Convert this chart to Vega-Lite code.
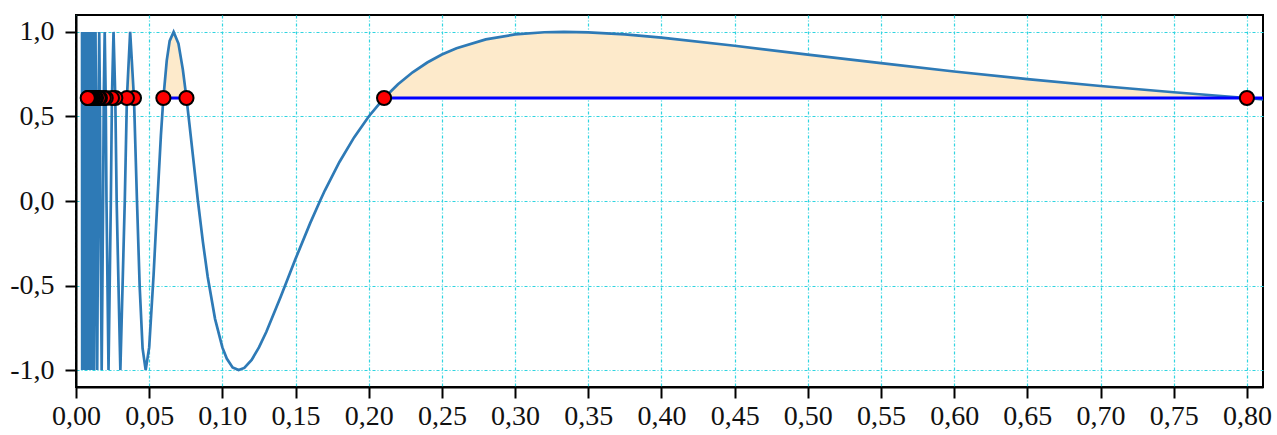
{
  "$schema": "https://vega.github.io/schema/vega-lite/v6.json",
  "width": 1187,
  "height": 372,
  "autosize": "none",
  "padding": {"left": 76, "top": 15, "right": 14, "bottom": 48},
  "background": "white",
  "config": {
    "font": "Liberation Serif",
    "view": {"stroke": "black", "strokeWidth": 2},
    "axis": {
      "labelFont": "Liberation Serif",
      "labelFontSize": 28,
      "labelColor": "#111111",
      "domainColor": "black",
      "domainWidth": 2,
      "tickColor": "black",
      "tickWidth": 2,
      "tickSize": 11,
      "gridColor": "#2fd4e0",
      "gridWidth": 1.2,
      "gridDash": [3, 2, 1, 2],
      "gridOpacity": 1
    }
  },
  "datasets": {
    "curve": [
      {"x": 0.00412, "y": 1}, {"x": 0.00422, "y": -1}, {"x": 0.00433, "y": 1}, {"x": 0.00444, "y": -1},
      {"x": 0.00457, "y": 1}, {"x": 0.00469, "y": -1}, {"x": 0.00483, "y": 1}, {"x": 0.00498, "y": -1},
      {"x": 0.00513, "y": 1}, {"x": 0.00529, "y": -1}, {"x": 0.00546, "y": 1}, {"x": 0.00565, "y": -1},
      {"x": 0.00585, "y": 1}, {"x": 0.00606, "y": -1}, {"x": 0.00629, "y": 1}, {"x": 0.00654, "y": -1},
      {"x": 0.0068, "y": 1}, {"x": 0.00709, "y": -1}, {"x": 0.00741, "y": 1}, {"x": 0.00775, "y": -1},
      {"x": 0.00813, "y": 1}, {"x": 0.00855, "y": -1}, {"x": 0.00901, "y": 1}, {"x": 0.00952, "y": -1},
      {"x": 0.0101, "y": 1}, {"x": 0.01075, "y": -1}, {"x": 0.01149, "y": 1}, {"x": 0.01235, "y": -1},
      {"x": 0.01333, "y": 1}, {"x": 0.01449, "y": -1}, {"x": 0.01515, "y": 0}, {"x": 0.01544, "y": 0.609},
      {"x": 0.01587, "y": 1}, {"x": 0.01633, "y": 0.609}, {"x": 0.01667, "y": 0}, {"x": 0.01754, "y": -1},
      {"x": 0.01852, "y": 0}, {"x": 0.01896, "y": 0.609}, {"x": 0.01961, "y": 1}, {"x": 0.0203, "y": 0.609},
      {"x": 0.02083, "y": 0}, {"x": 0.02222, "y": -1}, {"x": 0.02381, "y": 0}, {"x": 0.02454, "y": 0.609},
      {"x": 0.02564, "y": 1}, {"x": 0.02685, "y": 0.609}, {"x": 0.02778, "y": 0}, {"x": 0.0303, "y": -1},
      {"x": 0.03333, "y": 0}, {"x": 0.03478, "y": 0.609}, {"x": 0.037, "y": 1}, {"x": 0.0396, "y": 0.609},
      {"x": 0.04167, "y": 0}, {"x": 0.0435, "y": -0.505}, {"x": 0.0455, "y": -0.872}, {"x": 0.0476, "y": -1},
      {"x": 0.05, "y": -0.866}, {"x": 0.053, "y": -0.439}, {"x": 0.0556, "y": 0}, {"x": 0.058, "y": 0.387},
      {"x": 0.0597, "y": 0.609}, {"x": 0.062, "y": 0.83}, {"x": 0.064, "y": 0.947}, {"x": 0.0667, "y": 1},
      {"x": 0.07, "y": 0.931}, {"x": 0.073, "y": 0.777}, {"x": 0.0755, "y": 0.607}, {"x": 0.0775, "y": 0.455},
      {"x": 0.08, "y": 0.259}, {"x": 0.0833, "y": 0}, {"x": 0.0867, "y": -0.242}, {"x": 0.09, "y": -0.449},
      {"x": 0.095, "y": -0.697}, {"x": 0.1, "y": -0.866}, {"x": 0.103, "y": -0.932}, {"x": 0.107, "y": -0.984},
      {"x": 0.1111, "y": -1}, {"x": 0.115, "y": -0.987}, {"x": 0.12, "y": -0.94}, {"x": 0.125, "y": -0.866},
      {"x": 0.13, "y": -0.775}, {"x": 0.14, "y": -0.563}, {"x": 0.15, "y": -0.342}, {"x": 0.16, "y": -0.131},
      {"x": 0.1667, "y": 0}, {"x": 0.17, "y": 0.062}, {"x": 0.18, "y": 0.231}, {"x": 0.19, "y": 0.376},
      {"x": 0.2, "y": 0.5}, {"x": 0.2105, "y": 0.609}, {"x": 0.22, "y": 0.69}, {"x": 0.23, "y": 0.761},
      {"x": 0.24, "y": 0.819}, {"x": 0.25, "y": 0.866}, {"x": 0.26, "y": 0.903}, {"x": 0.28, "y": 0.956},
      {"x": 0.3, "y": 0.985}, {"x": 0.32, "y": 0.998}, {"x": 0.3333, "y": 1}, {"x": 0.35, "y": 0.997},
      {"x": 0.375, "y": 0.985}, {"x": 0.4, "y": 0.966}, {"x": 0.45, "y": 0.918}, {"x": 0.5, "y": 0.866},
      {"x": 0.55, "y": 0.815}, {"x": 0.6, "y": 0.766}, {"x": 0.65, "y": 0.721}, {"x": 0.7, "y": 0.68},
      {"x": 0.75, "y": 0.643}, {"x": 0.8, "y": 0.609}, {"x": 0.811, "y": 0.601}
    ],
    "fill": [
      {"seg": "a", "x": 0.01544, "y": 0.609}, {"seg": "a", "x": 0.01587, "y": 1}, {"seg": "a", "x": 0.01633, "y": 0.609},
      {"seg": "b", "x": 0.01896, "y": 0.609}, {"seg": "b", "x": 0.01961, "y": 1}, {"seg": "b", "x": 0.0203, "y": 0.609},
      {"seg": "c", "x": 0.02454, "y": 0.609}, {"seg": "c", "x": 0.02564, "y": 1}, {"seg": "c", "x": 0.02685, "y": 0.609},
      {"seg": "d", "x": 0.03478, "y": 0.609}, {"seg": "d", "x": 0.037, "y": 1}, {"seg": "d", "x": 0.0396, "y": 0.609},
      {"seg": "e", "x": 0.0597, "y": 0.609}, {"seg": "e", "x": 0.062, "y": 0.83}, {"seg": "e", "x": 0.064, "y": 0.947},
      {"seg": "e", "x": 0.0667, "y": 1}, {"seg": "e", "x": 0.07, "y": 0.931}, {"seg": "e", "x": 0.073, "y": 0.777},
      {"seg": "e", "x": 0.0755, "y": 0.609},
      {"seg": "f", "x": 0.2105, "y": 0.609}, {"seg": "f", "x": 0.22, "y": 0.69}, {"seg": "f", "x": 0.23, "y": 0.761},
      {"seg": "f", "x": 0.24, "y": 0.819}, {"seg": "f", "x": 0.25, "y": 0.866}, {"seg": "f", "x": 0.26, "y": 0.903},
      {"seg": "f", "x": 0.28, "y": 0.956}, {"seg": "f", "x": 0.3, "y": 0.985}, {"seg": "f", "x": 0.32, "y": 0.998},
      {"seg": "f", "x": 0.3333, "y": 1}, {"seg": "f", "x": 0.35, "y": 0.997}, {"seg": "f", "x": 0.375, "y": 0.985},
      {"seg": "f", "x": 0.4, "y": 0.966}, {"seg": "f", "x": 0.45, "y": 0.918}, {"seg": "f", "x": 0.5, "y": 0.866},
      {"seg": "f", "x": 0.55, "y": 0.815}, {"seg": "f", "x": 0.6, "y": 0.766}, {"seg": "f", "x": 0.65, "y": 0.721},
      {"seg": "f", "x": 0.7, "y": 0.68}, {"seg": "f", "x": 0.75, "y": 0.643}, {"seg": "f", "x": 0.8, "y": 0.609}
    ],
    "segments": [
      {"x1": 0.2105, "x2": 0.811}, {"x1": 0.0597, "x2": 0.07547}, {"x1": 0.03478, "x2": 0.0396},
      {"x1": 0.02454, "x2": 0.02685}, {"x1": 0.01896, "x2": 0.0203}, {"x1": 0.01544, "x2": 0.01633},
      {"x1": 0.01303, "x2": 0.01365}, {"x1": 0.01127, "x2": 0.01173}, {"x1": 0.00993, "x2": 0.01028},
      {"x1": 0.00887, "x2": 0.00915}, {"x1": 0.00802, "x2": 0.00825}
    ],
    "dots": [
      {"x": 0.8}, {"x": 0.2105}, {"x": 0.07547}, {"x": 0.0597}, {"x": 0.0396}, {"x": 0.03478},
      {"x": 0.02685}, {"x": 0.02454}, {"x": 0.0203}, {"x": 0.01896}, {"x": 0.01633}, {"x": 0.01544},
      {"x": 0.01365}, {"x": 0.01303}, {"x": 0.01173}, {"x": 0.01127}, {"x": 0.01028}, {"x": 0.00993},
      {"x": 0.00915}, {"x": 0.00887}, {"x": 0.00825}, {"x": 0.00802}
    ]
  },
  "layer": [
    {
      "data": {"name": "fill"},
      "mark": {"type": "area", "color": "#fdeacb", "opacity": 1},
      "encoding": {
        "x": {
          "field": "x", "type": "quantitative",
          "scale": {"domain": [0, 0.811], "nice": false, "zero": false},
          "axis": {
            "title": null,
            "values": [0, 0.05, 0.1, 0.15, 0.2, 0.25, 0.3, 0.35, 0.4, 0.45, 0.5, 0.55, 0.6, 0.65, 0.7, 0.75, 0.8],
            "labelExpr": "replace(format(datum.value, '.2f'), '.', ',')",
            "labelFontSize": 28,
            "labelPadding": 4,
            "labelFlush": false,
            "labelOverlap": false
          }
        },
        "y": {
          "field": "y", "type": "quantitative",
          "scale": {"domain": [-1.1, 1.1], "nice": false, "zero": false},
          "axis": {
            "title": null,
            "values": [-1, -0.5, 0, 0.5, 1],
            "labelExpr": "replace(replace(format(datum.value, '.1f'), '.', ','), '\u2212', '-')",
            "labelFontSize": 28,
            "labelPadding": 11
          }
        },
        "y2": {"datum": 0.609},
        "detail": {"field": "seg"}
      }
    },
    {
      "data": {"name": "curve"},
      "mark": {"type": "line", "color": "#2e7ab6", "strokeWidth": 2.7, "clip": true},
      "encoding": {
        "x": {"field": "x", "type": "quantitative"},
        "y": {"field": "y", "type": "quantitative"}
      }
    },
    {
      "data": {"name": "segments"},
      "mark": {"type": "rule", "color": "#0000ff", "strokeWidth": 3, "clip": true},
      "encoding": {
        "x": {"field": "x1", "type": "quantitative"},
        "x2": {"field": "x2"},
        "y": {"datum": 0.609}
      }
    },
    {
      "data": {"name": "dots"},
      "mark": {"type": "circle", "fill": "#ff0000", "stroke": "black", "strokeWidth": 2, "size": 200, "opacity": 1},
      "encoding": {
        "x": {"field": "x", "type": "quantitative"},
        "y": {"datum": 0.609}
      }
    }
  ]
}
